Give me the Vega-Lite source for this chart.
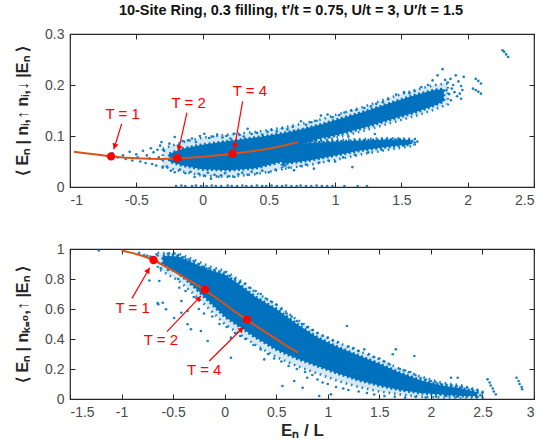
{
"$schema": "https://vega.github.io/schema/vega-lite/v6.json",
"padding": {"left": 13, "top": 1, "right": 8, "bottom": 2},
"background": "white",
"spacing": 33,
"config": {
 "view": {"stroke": "#262626", "strokeWidth": 1.2},
 "axis": {"grid": false, "domain": false, "tickColor": "#262626", "tickSize": -5, "tickWidth": 1, "labelFont": "Liberation Sans", "labelFontSize": 14, "labelColor": "#4a4a4a", "labelPadding": 11, "titleFont": "Liberation Sans", "titleFontWeight": "bold", "titleColor": "#262626"}
},
"datasets": {
 "bandTop1": [{"x":-0.25,"lo":0.05,"hi":0.065},{"x":-0.15,"lo":0.042,"hi":0.075},{"x":0,"lo":0.035,"hi":0.083},{"x":0.2,"lo":0.033,"hi":0.09},{"x":0.4,"lo":0.037,"hi":0.097},{"x":0.6,"lo":0.05,"hi":0.105},{"x":0.75,"lo":0.085,"hi":0.113},{"x":0.9,"lo":0.096,"hi":0.123},{"x":1.0,"lo":0.101,"hi":0.131},{"x":1.2,"lo":0.115,"hi":0.146},{"x":1.4,"lo":0.131,"hi":0.163},{"x":1.6,"lo":0.146,"hi":0.18},{"x":1.75,"lo":0.16,"hi":0.19},{"x":1.82,"lo":0.168,"hi":0.192}],
 "bandTop2": [{"x":0.6,"lo":0.045,"hi":0.085},{"x":0.8,"lo":0.052,"hi":0.086},{"x":1.0,"lo":0.062,"hi":0.089},{"x":1.2,"lo":0.072,"hi":0.091},{"x":1.4,"lo":0.079,"hi":0.093},{"x":1.57,"lo":0.084,"hi":0.092}],
 "haloTop1": [{"x":-0.3,"lo":0.04,"hi":0.075},{"x":-0.15,"lo":0.03,"hi":0.088},{"x":0,"lo":0.022,"hi":0.097},{"x":0.2,"lo":0.02,"hi":0.103},{"x":0.4,"lo":0.025,"hi":0.108},{"x":0.6,"lo":0.035,"hi":0.116},{"x":0.75,"lo":0.075,"hi":0.124},{"x":0.9,"lo":0.09,"hi":0.133},{"x":1.0,"lo":0.096,"hi":0.141},{"x":1.2,"lo":0.109,"hi":0.156},{"x":1.4,"lo":0.124,"hi":0.174},{"x":1.6,"lo":0.139,"hi":0.19},{"x":1.75,"lo":0.152,"hi":0.2},{"x":1.85,"lo":0.162,"hi":0.203}],
 "haloTop2": [{"x":0.6,"lo":0.035,"hi":0.09},{"x":0.8,"lo":0.043,"hi":0.09},{"x":1.0,"lo":0.053,"hi":0.092},{"x":1.2,"lo":0.064,"hi":0.094},{"x":1.4,"lo":0.073,"hi":0.096},{"x":1.6,"lo":0.081,"hi":0.094}],
 "ptsTop": [{"x":-0.68,"y":0.066},{"x":-0.64,"y":0.058},{"x":-0.6,"y":0.062},{"x":-0.58,"y":0.055},{"x":-0.55,"y":0.069},{"x":-0.53,"y":0.052},{"x":-0.5,"y":0.064},{"x":-0.49,"y":0.058},{"x":-0.47,"y":0.05},{"x":-0.45,"y":0.071},{"x":-0.43,"y":0.047},{"x":-0.42,"y":0.062},{"x":-0.4,"y":0.056},{"x":-0.39,"y":0.076},{"x":-0.38,"y":0.045},{"x":-0.37,"y":0.068},{"x":-0.35,"y":0.042},{"x":-0.34,"y":0.073},{"x":-0.33,"y":0.058},{"x":-0.32,"y":0.081},{"x":-0.31,"y":0.088},{"x":-0.3,"y":0.038},{"x":-0.29,"y":0.071},
 {"x":-0.25,"y":0.085},{"x":-0.21,"y":0.098},{"x":-0.18,"y":0.082},{"x":-0.15,"y":0.09},{"x":-0.11,"y":0.0915},{"x":-0.08,"y":0.095},{"x":-0.05,"y":0.088},{"x":-0.02,"y":0.1},{"x":0.013,"y":0.1045},{"x":0.05,"y":0.096},{"x":0.08,"y":0.099},{"x":0.11,"y":0.1026},{"x":0.15,"y":0.097},{"x":0.18,"y":0.1},{"x":0.21,"y":0.095},{"x":0.24,"y":0.1045},{"x":0.28,"y":0.102},{"x":0.31,"y":0.099},{"x":0.34,"y":0.114},{"x":0.37,"y":0.104},{"x":0.41,"y":0.106},{"x":0.45,"y":0.103},{"x":0.49,"y":0.108},{"x":0.52,"y":0.112},{"x":0.56,"y":0.109},{"x":0.6,"y":0.115},{"x":0.64,"y":0.113},{"x":0.68,"y":0.118},{"x":0.742,"y":0.129},{"x":0.78,"y":0.122},{"x":0.82,"y":0.127},{"x":0.86,"y":0.13},{"x":0.893,"y":0.14},{"x":0.943,"y":0.142},{"x":0.98,"y":0.137},{"x":1.03,"y":0.141},{"x":1.07,"y":0.146},{"x":1.12,"y":0.15},{"x":1.16,"y":0.151},{"x":1.22,"y":0.155},{"x":1.27,"y":0.158},{"x":1.31,"y":0.163},{"x":1.36,"y":0.166},{"x":1.4,"y":0.172},{"x":1.46,"y":0.181},{"x":1.52,"y":0.186},{"x":1.56,"y":0.184},{"x":1.6,"y":0.188},{"x":1.65,"y":0.196},{"x":1.7,"y":0.2},{"x":1.735,"y":0.209},{"x":1.773,"y":0.219},{"x":1.81,"y":0.231},{"x":1.83,"y":0.21},{"x":1.85,"y":0.205},{"x":1.87,"y":0.212},{"x":1.89,"y":0.2},{"x":1.91,"y":0.219},{"x":1.93,"y":0.207},{"x":1.95,"y":0.198},{"x":1.97,"y":0.216},{"x":1.96,"y":0.19},{"x":1.94,"y":0.183},{"x":1.92,"y":0.178},{"x":1.95,"y":0.173},{"x":1.873,"y":0.17},{"x":1.9,"y":0.186},{"x":1.88,"y":0.193},{"x":1.86,"y":0.182},{"x":1.84,"y":0.19},
 {"x":-0.27,"y":0.04},{"x":-0.24,"y":0.032},{"x":-0.21,"y":0.029},{"x":-0.17,"y":0.034},{"x":-0.13,"y":0.027},{"x":-0.09,"y":0.03},{"x":-0.06,"y":0.0196},{"x":-0.03,"y":0.026},{"x":0.01,"y":0.022},{"x":0.04,"y":0.028},{"x":0.063,"y":0.0163},{"x":0.09,"y":0.024},{"x":0.12,"y":0.02},{"x":0.139,"y":0.023},{"x":0.17,"y":0.027},{"x":0.2,"y":0.021},{"x":0.24,"y":0.0196},{"x":0.27,"y":0.025},{"x":0.3,"y":0.028},{"x":0.34,"y":0.024},{"x":0.37,"y":0.03},{"x":0.41,"y":0.027},{"x":0.45,"y":0.032},{"x":0.5,"y":0.029},{"x":0.55,"y":0.034},{"x":0.616,"y":0.0425},{"x":0.65,"y":0.038},{"x":0.69,"y":0.033},{"x":0.74,"y":0.041},{"x":0.78,"y":0.044},{"x":0.84,"y":0.036},{"x":0.88,"y":0.048},{"x":0.95,"y":0.052},{"x":1.0,"y":0.05},{"x":1.13,"y":0.039},{"x":1.06,"y":0.058},{"x":1.15,"y":0.063},{"x":1.25,"y":0.068},{"x":1.35,"y":0.073},
 {"x":1.45,"y":0.086},{"x":1.5,"y":0.09},{"x":1.55,"y":0.088},{"x":1.58,"y":0.09},{"x":1.6,"y":0.087},{"x":1.62,"y":0.089},{"x":1.48,"y":0.094},{"x":1.52,"y":0.083},{"x":0.85,"y":0.092},{"x":0.95,"y":0.097},{"x":1.1,"y":0.099},{"x":1.3,"y":0.104},
 {"x":-0.2,"y":0.002},{"x":-0.16,"y":0.003},{"x":-0.13,"y":0.002},{"x":-0.08,"y":0.002},{"x":-0.05,"y":0.003},{"x":-0.01,"y":0.002},{"x":0.03,"y":0.002},{"x":0.07,"y":0.003},{"x":0.1,"y":0.002},{"x":0.14,"y":0.002},{"x":0.19,"y":0.003},{"x":0.22,"y":0.002},{"x":0.26,"y":0.002},{"x":0.3,"y":0.003},{"x":0.33,"y":0.002},{"x":0.37,"y":0.002},{"x":0.41,"y":0.003},{"x":0.45,"y":0.002},{"x":0.48,"y":0.002},{"x":0.52,"y":0.003},{"x":0.56,"y":0.002},{"x":0.6,"y":0.002},{"x":0.63,"y":0.003},{"x":0.67,"y":0.002},{"x":0.71,"y":0.002},{"x":0.74,"y":0.003},{"x":0.78,"y":0.002},{"x":0.82,"y":0.002},{"x":0.86,"y":0.003},{"x":0.9,"y":0.002},{"x":0.94,"y":0.002},{"x":0.98,"y":0.002},{"x":1.07,"y":0.002},{"x":1.17,"y":0.002},{"x":1.24,"y":0.002},
 {"x":2.04,"y":0.193},{"x":2.06,"y":0.19},{"x":2.08,"y":0.187},{"x":2.1,"y":0.183},{"x":2.06,"y":0.212},{"x":2.08,"y":0.208},{"x":2.1,"y":0.203},{"x":2.263,"y":0.268},{"x":2.275,"y":0.265},{"x":2.29,"y":0.26},{"x":2.305,"y":0.255}],
 "curveTop": [{"x":-0.97,"y":0.069},{"x":-0.9,"y":0.0665},{"x":-0.8,"y":0.0635},{"x":-0.7,"y":0.0605},{"x":-0.6,"y":0.058},{"x":-0.5,"y":0.0562},{"x":-0.4,"y":0.0552},{"x":-0.3,"y":0.055},{"x":-0.2,"y":0.0558},{"x":-0.1,"y":0.0572},{"x":0,"y":0.0592},{"x":0.1,"y":0.0616},{"x":0.2,"y":0.0642},{"x":0.3,"y":0.0675},{"x":0.4,"y":0.0712},{"x":0.5,"y":0.0752},{"x":0.6,"y":0.0805},{"x":0.72,"y":0.088}],
 "tTop": [{"x":-0.69,"y":0.06,"label":"T = 1","lx":-0.603,"ly":0.1437,"tx":-0.61,"ty":0.124,"hx":-0.67,"hy":0.074},{"x":-0.19,"y":0.0565,"label":"T = 2","lx":-0.105,"ly":0.165,"tx":-0.118,"ty":0.146,"hx":-0.183,"hy":0.07},{"x":0.227,"y":0.065,"label":"T = 4","lx":0.357,"ly":0.188,"tx":0.302,"ty":0.168,"hx":0.239,"hy":0.074}],
 "bandBot": [{"x":-0.6,"lo":0.9,"hi":0.955},{"x":-0.45,"lo":0.84,"hi":0.95},{"x":-0.3,"lo":0.75,"hi":0.905},{"x":-0.15,"lo":0.65,"hi":0.86},{"x":0,"lo":0.55,"hi":0.83},{"x":0.15,"lo":0.48,"hi":0.76},{"x":0.3,"lo":0.41,"hi":0.68},{"x":0.5,"lo":0.33,"hi":0.6},{"x":0.7,"lo":0.27,"hi":0.5},{"x":0.9,"lo":0.22,"hi":0.41},{"x":1.1,"lo":0.17,"hi":0.345},{"x":1.3,"lo":0.125,"hi":0.29},{"x":1.5,"lo":0.09,"hi":0.235},{"x":1.7,"lo":0.06,"hi":0.175},{"x":1.9,"lo":0.04,"hi":0.125},{"x":2.1,"lo":0.03,"hi":0.09},{"x":2.3,"lo":0.02,"hi":0.07},{"x":2.45,"lo":0.02,"hi":0.045}],
 "haloBot": [{"x":-0.65,"lo":0.87,"hi":0.975},{"x":-0.45,"lo":0.79,"hi":0.97},{"x":-0.3,"lo":0.7,"hi":0.93},{"x":-0.15,"lo":0.6,"hi":0.885},{"x":0,"lo":0.5,"hi":0.855},{"x":0.15,"lo":0.43,"hi":0.79},{"x":0.3,"lo":0.36,"hi":0.71},{"x":0.5,"lo":0.28,"hi":0.63},{"x":0.7,"lo":0.22,"hi":0.53},{"x":0.9,"lo":0.17,"hi":0.44},{"x":1.1,"lo":0.12,"hi":0.375},{"x":1.3,"lo":0.08,"hi":0.32},{"x":1.5,"lo":0.05,"hi":0.265},{"x":1.7,"lo":0.03,"hi":0.2},{"x":1.9,"lo":0.015,"hi":0.15},{"x":2.1,"lo":0.01,"hi":0.11},{"x":2.3,"lo":0.005,"hi":0.09},{"x":2.5,"lo":0.01,"hi":0.05}],
 "ptsBot": [{"x":-1.22,"y":0.99},{"x":-0.83,"y":0.975},{"x":-0.78,"y":0.96},{"x":-0.75,"y":0.955},{"x":-0.72,"y":0.95},{"x":-0.66,"y":0.965},{"x":-0.73,"y":0.79},{"x":-0.634,"y":0.787},{"x":-0.618,"y":0.871},{"x":-0.644,"y":0.631},{"x":-0.569,"y":0.598},{"x":-0.6,"y":0.642},{"x":-0.65,"y":0.64},{"x":-0.49,"y":0.54},{"x":-0.42,"y":0.653},{"x":-0.36,"y":0.587},{"x":-0.42,"y":0.575},{"x":-0.44,"y":0.742},{"x":-0.36,"y":0.498},{"x":-0.327,"y":0.465},{"x":-0.23,"y":0.453},{"x":-0.165,"y":0.387},{"x":0.06,"y":0.409},{"x":0.061,"y":0.275},{"x":0.384,"y":0.264},{"x":0.56,"y":0.087},{"x":0.675,"y":0.12},{"x":0.756,"y":0.075},{"x":0.8,"y":0.142},
 {"x":-0.55,"y":0.97},{"x":-0.5,"y":0.965},{"x":-0.45,"y":0.96},{"x":-0.4,"y":0.945},{"x":-0.35,"y":0.93},{"x":-0.3,"y":0.92},{"x":-0.25,"y":0.9},{"x":-0.2,"y":0.88},{"x":-0.15,"y":0.87},{"x":-0.1,"y":0.86},{"x":-0.05,"y":0.85},{"x":0,"y":0.845},{"x":0.05,"y":0.82},{"x":0.1,"y":0.8},{"x":0.15,"y":0.78},{"x":0.2,"y":0.77},{"x":0.25,"y":0.74},{"x":0.3,"y":0.72},{"x":0.35,"y":0.7},{"x":0.4,"y":0.67},{"x":0.45,"y":0.65},{"x":0.5,"y":0.63},{"x":0.55,"y":0.6},{"x":0.6,"y":0.57},{"x":0.65,"y":0.55},{"x":0.7,"y":0.52},{"x":0.75,"y":0.5},{"x":0.8,"y":0.48},{"x":0.85,"y":0.46},{"x":0.9,"y":0.44},{"x":0.95,"y":0.42},{"x":1.0,"y":0.41},{"x":1.05,"y":0.39},{"x":1.1,"y":0.38},{"x":1.186,"y":0.487},{"x":1.2,"y":0.35},{"x":1.25,"y":0.34},{"x":1.3,"y":0.32},{"x":1.354,"y":0.331},{"x":1.4,"y":0.3},{"x":1.45,"y":0.28},{"x":1.5,"y":0.27},{"x":1.55,"y":0.25},{"x":1.63,"y":0.298},{"x":1.66,"y":0.331},{"x":1.6,"y":0.23},{"x":1.7,"y":0.2},{"x":1.75,"y":0.19},{"x":1.84,"y":0.287},{"x":1.8,"y":0.18},{"x":1.85,"y":0.16},{"x":1.9,"y":0.14},{"x":1.95,"y":0.13},{"x":2.0,"y":0.12},{"x":2.05,"y":0.11},{"x":2.1,"y":0.1},{"x":2.15,"y":0.095},{"x":2.195,"y":0.142},{"x":2.26,"y":0.142},{"x":2.2,"y":0.09},{"x":2.25,"y":0.085},{"x":2.3,"y":0.08},{"x":2.35,"y":0.075},{"x":2.4,"y":0.065},{"x":2.45,"y":0.06},{"x":2.5,"y":0.04},{"x":2.48,"y":0.025},
 {"x":-0.55,"y":0.86},{"x":-0.45,"y":0.8},{"x":-0.38,"y":0.72},{"x":-0.3,"y":0.68},{"x":-0.25,"y":0.6},{"x":-0.2,"y":0.57},{"x":-0.12,"y":0.55},{"x":-0.05,"y":0.5},{"x":0.02,"y":0.48},{"x":0.1,"y":0.44},{"x":0.15,"y":0.42},{"x":0.2,"y":0.4},{"x":0.28,"y":0.36},{"x":0.35,"y":0.33},{"x":0.42,"y":0.3},{"x":0.48,"y":0.27},{"x":0.55,"y":0.25},{"x":0.62,"y":0.22},{"x":0.7,"y":0.2},{"x":0.78,"y":0.18},{"x":0.85,"y":0.16},{"x":0.9,"y":0.13},{"x":0.95,"y":0.11},{"x":1.0,"y":0.1},{"x":0.917,"y":0.02},{"x":1.03,"y":0.031},{"x":1.08,"y":0.08},{"x":1.15,"y":0.07},{"x":1.2,"y":0.06},{"x":1.3,"y":0.05},{"x":1.38,"y":0.04},{"x":1.45,"y":0.03},{"x":1.55,"y":0.02},{"x":1.65,"y":0.015},{"x":1.75,"y":0.01},{"x":1.85,"y":0.015},{"x":1.95,"y":0.01},{"x":2.05,"y":0.015},{"x":2.15,"y":0.02},{"x":2.25,"y":0.015},{"x":2.35,"y":0.02},{"x":2.44,"y":0.015},
 {"x":2.55,"y":0.131},{"x":2.57,"y":0.11},{"x":2.58,"y":0.09},{"x":2.6,"y":0.07},{"x":2.61,"y":0.05},{"x":2.63,"y":0.031},{"x":2.83,"y":0.142},{"x":2.85,"y":0.12},{"x":2.86,"y":0.1},{"x":2.88,"y":0.08},{"x":2.885,"y":0.065}],
 "curveBot": [{"x":-1.0,"y":0.99},{"x":-0.9,"y":0.974},{"x":-0.8,"y":0.955},{"x":-0.7,"y":0.93},{"x":-0.6,"y":0.893},{"x":-0.5,"y":0.855},{"x":-0.4,"y":0.814},{"x":-0.3,"y":0.772},{"x":-0.2,"y":0.729},{"x":-0.1,"y":0.683},{"x":0,"y":0.633},{"x":0.1,"y":0.582},{"x":0.2,"y":0.535},{"x":0.3,"y":0.489},{"x":0.4,"y":0.444},{"x":0.5,"y":0.399},{"x":0.6,"y":0.355},{"x":0.714,"y":0.309}],
 "tBot": [{"x":-0.69,"y":0.927,"label":"T = 1","lx":-0.892,"ly":0.609,"tx":-0.899,"ty":0.671,"hx":-0.727,"hy":0.875},{"x":-0.19,"y":0.729,"label":"T = 2","lx":-0.618,"ly":0.391,"tx":-0.56,"ty":0.449,"hx":-0.23,"hy":0.687},{"x":0.216,"y":0.529,"label":"T = 4","lx":-0.198,"ly":0.195,"tx":-0.149,"ty":0.253,"hx":0.184,"hy":0.48}]
},
"vconcat": [
 {
  "width": 464, "height": 153,
  "title": {"text": "10-Site Ring, 0.3 filling, t′/t = 0.75, U/t = 3, U′/t = 1.5", "font": "Liberation Sans", "fontSize": 14.5, "fontWeight": "bold", "color": "#111111", "anchor": "middle", "frame": "group", "offset": 9, "dx": -11},
  "layer": [
   {"data": {"name": "haloTop1"}, "mark": {"type": "area", "color": "#0072BD", "fillOpacity": 0.16, "stroke": "#0072BD", "strokeWidth": 2.6, "strokeDash": [1.5, 4], "strokeOpacity": 0.9},
    "encoding": {
     "x": {"field": "x", "type": "quantitative", "scale": {"domain": [-1, 2.5], "nice": false, "zero": false}, "axis": {"orient": "bottom", "values": [-1,-0.5,0,0.5,1,1.5,2,2.5], "labelExpr": "'' + datum.value", "title": null}},
     "y": {"field": "hi", "type": "quantitative", "scale": {"domain": [0, 0.3], "nice": false, "zero": false}, "axis": {"orient": "left", "values": [0,0.1,0.2,0.3], "labelExpr": "'' + datum.value", "title": "⟨ Eₙ | nᵢ,↑ nᵢ,↓ |Eₙ ⟩", "titleFontSize": 16, "titlePadding": 14, "minExtent": 26, "maxExtent": 26}},
     "y2": {"field": "lo"}}},
   {"data": {"name": "haloTop2"}, "mark": {"type": "area", "color": "#0072BD", "fillOpacity": 0.16, "stroke": "#0072BD", "strokeWidth": 2.6, "strokeDash": [1.5, 4], "strokeOpacity": 0.9},
    "encoding": {"x": {"field": "x", "type": "quantitative", "axis": null}, "y": {"field": "hi", "type": "quantitative", "axis": null}, "y2": {"field": "lo"}}},
   {"data": {"name": "bandTop1"}, "mark": {"type": "area", "color": "#0072BD", "stroke": "#0072BD", "strokeWidth": 3, "strokeDash": [2, 2.5]},
    "encoding": {"x": {"field": "x", "type": "quantitative", "axis": null}, "y": {"field": "hi", "type": "quantitative", "axis": null}, "y2": {"field": "lo"}}},
   {"data": {"name": "bandTop2"}, "mark": {"type": "area", "color": "#0072BD", "stroke": "#0072BD", "strokeWidth": 3, "strokeDash": [2, 2.5]},
    "encoding": {"x": {"field": "x", "type": "quantitative", "axis": null}, "y": {"field": "hi", "type": "quantitative", "axis": null}, "y2": {"field": "lo"}}},
   {"data": {"name": "ptsTop"}, "mark": {"type": "circle", "size": 7, "color": "#0072BD", "opacity": 0.9},
    "encoding": {
     "x": {"field": "x", "type": "quantitative", "axis": {"orient": "top", "labels": false, "values": [-1,-0.5,0,0.5,1,1.5,2,2.5], "title": null}},
     "y": {"field": "y", "type": "quantitative", "axis": {"orient": "right", "labels": false, "values": [0,0.1,0.2,0.3], "title": null}}}},
   {"data": {"name": "curveTop"}, "mark": {"type": "line", "color": "#D95319", "strokeWidth": 2},
    "encoding": {"x": {"field": "x", "type": "quantitative", "axis": null}, "y": {"field": "y", "type": "quantitative", "axis": null}}},
   {"data": {"name": "tTop"}, "mark": {"type": "circle", "size": 70, "color": "#FF0000", "opacity": 1},
    "encoding": {"x": {"field": "x", "type": "quantitative", "axis": null}, "y": {"field": "y", "type": "quantitative", "axis": null}}},
   {"data": {"name": "tTop"}, "mark": {"type": "rule", "color": "#FF0000", "strokeWidth": 1.2},
    "encoding": {"x": {"field": "tx", "type": "quantitative", "axis": null}, "y": {"field": "ty", "type": "quantitative", "axis": null}, "x2": {"field": "hx"}, "y2": {"field": "hy"}}},
   {"data": {"values": [{"x": -0.663, "y": 0.0796}]}, "mark": {"type": "point", "shape": "triangle-down", "filled": true, "size": 40, "color": "#FF0000", "opacity": 1, "angle": 17},
    "encoding": {"x": {"field": "x", "type": "quantitative", "axis": null}, "y": {"field": "y", "type": "quantitative", "axis": null}}},
   {"data": {"values": [{"x": -0.178, "y": 0.0757}]}, "mark": {"type": "point", "shape": "triangle-down", "filled": true, "size": 40, "color": "#FF0000", "opacity": 1, "angle": 13},
    "encoding": {"x": {"field": "x", "type": "quantitative", "axis": null}, "y": {"field": "y", "type": "quantitative", "axis": null}}},
   {"data": {"values": [{"x": 0.243, "y": 0.0798}]}, "mark": {"type": "point", "shape": "triangle-down", "filled": true, "size": 40, "color": "#FF0000", "opacity": 1, "angle": 10},
    "encoding": {"x": {"field": "x", "type": "quantitative", "axis": null}, "y": {"field": "y", "type": "quantitative", "axis": null}}},
   {"data": {"name": "tTop"}, "mark": {"type": "text", "color": "#FF0000", "font": "Liberation Sans", "fontSize": 15, "baseline": "middle", "align": "center"},
    "encoding": {"x": {"field": "lx", "type": "quantitative", "axis": null}, "y": {"field": "ly", "type": "quantitative", "axis": null}, "text": {"field": "label"}}}
  ]
 },
 {
  "width": 464, "height": 150,
  "layer": [
   {"data": {"name": "haloBot"}, "mark": {"type": "area", "color": "#0072BD", "fillOpacity": 0.16, "stroke": "#0072BD", "strokeWidth": 2.6, "strokeDash": [1.5, 4], "strokeOpacity": 0.9},
    "encoding": {
     "x": {"field": "x", "type": "quantitative", "scale": {"domain": [-1.5, 3], "nice": false, "zero": false}, "axis": {"orient": "bottom", "values": [-1.5,-1,-0.5,0,0.5,1,1.5,2,2.5,3], "labelExpr": "'' + datum.value", "title": "Eₙ / L", "titleFontSize": 17, "titlePadding": 3}},
     "y": {"field": "hi", "type": "quantitative", "scale": {"domain": [0, 1], "nice": false, "zero": false}, "axis": {"orient": "left", "values": [0,0.2,0.4,0.6,0.8,1], "labelExpr": "'' + datum.value", "title": "⟨ Eₙ | nₖ₌₀,↑ |Eₙ ⟩", "titleFontSize": 16, "titlePadding": 14, "minExtent": 26, "maxExtent": 26}},
     "y2": {"field": "lo"}}},
   {"data": {"name": "bandBot"}, "mark": {"type": "area", "color": "#0072BD", "stroke": "#0072BD", "strokeWidth": 3, "strokeDash": [2, 2.5]},
    "encoding": {"x": {"field": "x", "type": "quantitative", "axis": null}, "y": {"field": "hi", "type": "quantitative", "axis": null}, "y2": {"field": "lo"}}},
   {"data": {"name": "ptsBot"}, "mark": {"type": "circle", "size": 7, "color": "#0072BD", "opacity": 0.9},
    "encoding": {
     "x": {"field": "x", "type": "quantitative", "axis": {"orient": "top", "labels": false, "values": [-1.5,-1,-0.5,0,0.5,1,1.5,2,2.5,3], "title": null}},
     "y": {"field": "y", "type": "quantitative", "axis": {"orient": "right", "labels": false, "values": [0,0.2,0.4,0.6,0.8,1], "title": null}}}},
   {"data": {"name": "curveBot"}, "mark": {"type": "line", "color": "#D95319", "strokeWidth": 2},
    "encoding": {"x": {"field": "x", "type": "quantitative", "axis": null}, "y": {"field": "y", "type": "quantitative", "axis": null}}},
   {"data": {"name": "tBot"}, "mark": {"type": "circle", "size": 70, "color": "#FF0000", "opacity": 1},
    "encoding": {"x": {"field": "x", "type": "quantitative", "axis": null}, "y": {"field": "y", "type": "quantitative", "axis": null}}},
   {"data": {"name": "tBot"}, "mark": {"type": "rule", "color": "#FF0000", "strokeWidth": 1.2},
    "encoding": {"x": {"field": "tx", "type": "quantitative", "axis": null}, "y": {"field": "ty", "type": "quantitative", "axis": null}, "x2": {"field": "hx"}, "y2": {"field": "hy"}}},
   {"data": {"values": [{"x": -0.742, "y": 0.858}]}, "mark": {"type": "point", "shape": "triangle-up", "filled": true, "size": 40, "color": "#FF0000", "opacity": 1, "angle": 30},
    "encoding": {"x": {"field": "x", "type": "quantitative", "axis": null}, "y": {"field": "y", "type": "quantitative", "axis": null}}},
   {"data": {"values": [{"x": -0.25, "y": 0.6725}]}, "mark": {"type": "point", "shape": "triangle-up", "filled": true, "size": 40, "color": "#FF0000", "opacity": 1, "angle": 44},
    "encoding": {"x": {"field": "x", "type": "quantitative", "axis": null}, "y": {"field": "y", "type": "quantitative", "axis": null}}},
   {"data": {"values": [{"x": 0.163, "y": 0.466}]}, "mark": {"type": "point", "shape": "triangle-up", "filled": true, "size": 40, "color": "#FF0000", "opacity": 1, "angle": 45},
    "encoding": {"x": {"field": "x", "type": "quantitative", "axis": null}, "y": {"field": "y", "type": "quantitative", "axis": null}}},
   {"data": {"name": "tBot"}, "mark": {"type": "text", "color": "#FF0000", "font": "Liberation Sans", "fontSize": 15, "baseline": "middle", "align": "center"},
    "encoding": {"x": {"field": "lx", "type": "quantitative", "axis": null}, "y": {"field": "ly", "type": "quantitative", "axis": null}, "text": {"field": "label"}}}
  ]
 }
]
}
